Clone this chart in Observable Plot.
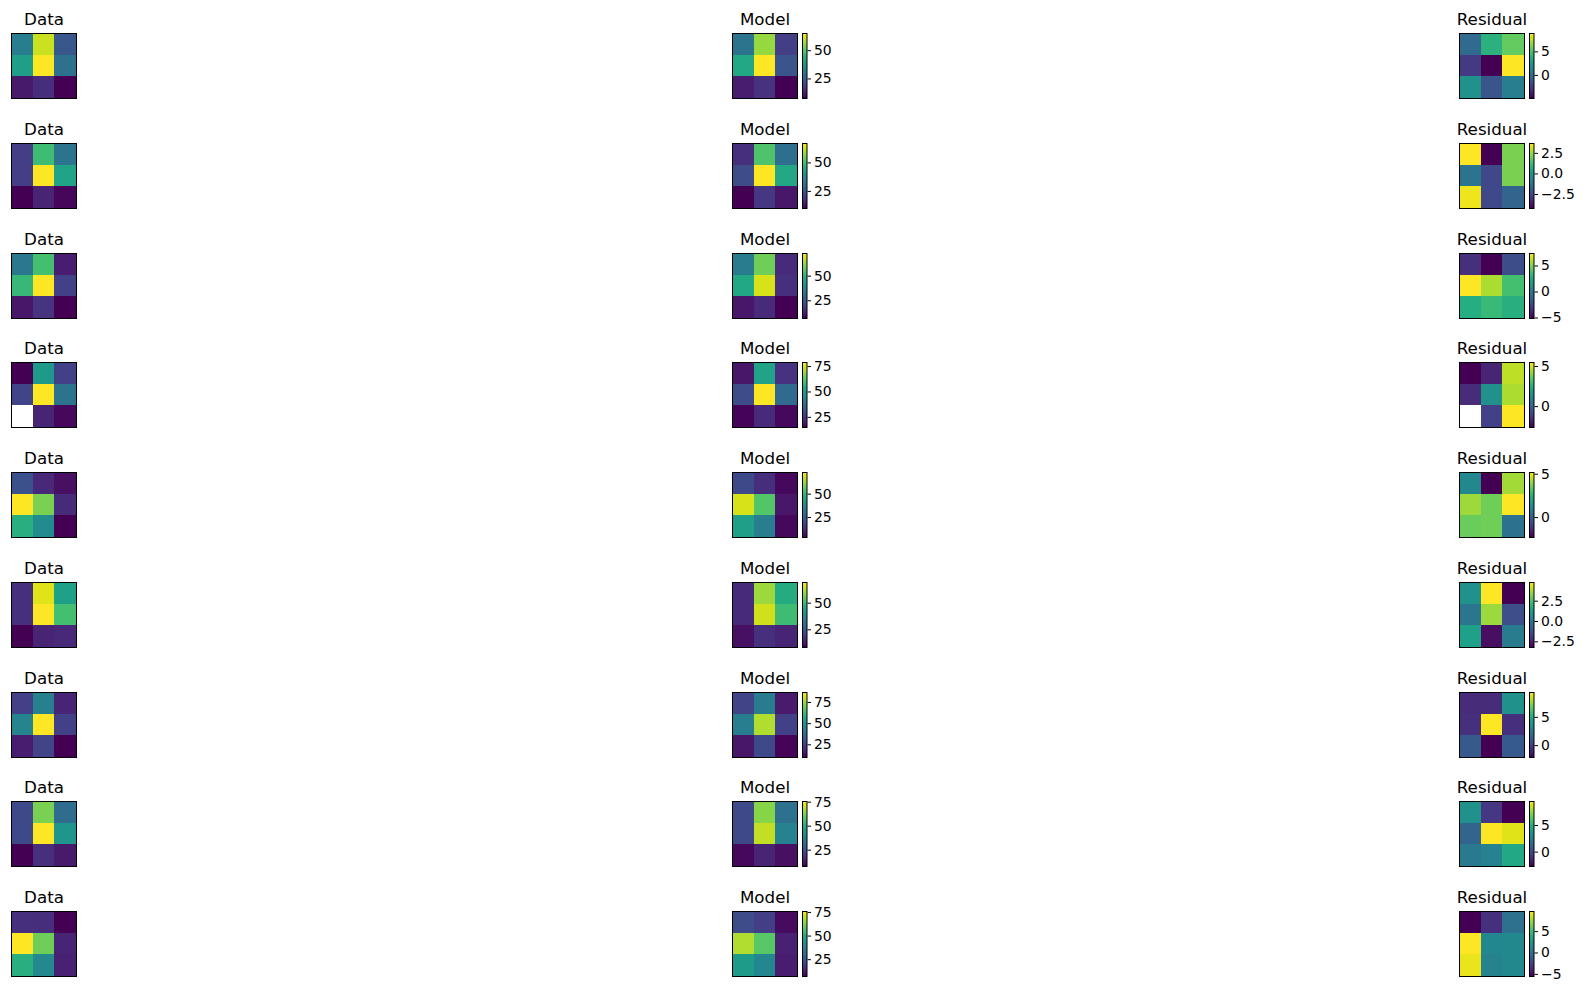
<!DOCTYPE html>
<html>
<head>
<meta charset="utf-8">
<script src="https://cdn.jsdelivr.net/npm/d3@7"></script>
<script src="https://cdn.jsdelivr.net/npm/@observablehq/plot@0.6"></script>
<style>
  body { margin: 0; background: #fff; }
  #fig { position: relative; width: 1583px; height: 990px; background: #fff; }
  #fig svg { position: absolute; overflow: visible; }
</style>
</head>
<body>
<div id="fig"></div>
<script>
const titles = ["Data", "Model", "Residual"];

// 3x3 images, row-major (top row first), one entry per figure row
const dataVals = [
  [31.9, 60.6, 23.2, 39.9, 65.2, 29.0, 11.7, 15.2, 7.7],
  [20.3, 49.3, 31.7, 20.3, 67.0, 43.1, 10.0, 15.7, 11.1],
  [33.4, 53.2, 12.3, 51.2, 73.0, 19.5, 11.0, 16.9, 7.0],
  [15.0, 49.6, 27.2, 27.8, 79.0, 39.3, NaN, 21.4, 16.3],
  [21.0, 11.3, 6.4, 73.2, 59.3, 12.0, 47.4, 37.0, 3.6],
  [16.9, 66.4, 43.2, 16.9, 69.4, 51.1, 8.4, 14.5, 15.1],
  [24.6, 43.0, 17.7, 44.6, 86.8, 24.6, 16.1, 25.4, 10.0],
  [22.9, 62.2, 31.7, 22.9, 75.7, 43.2, 8.0, 17.5, 12.7],
  [16.8, 16.1, 7.2, 76.0, 60.9, 14.1, 50.5, 39.5, 13.4]
];
const modelVals = [
  [29.6, 56.0, 18.1, 42.2, 65.2, 22.7, 12.3, 15.8, 7.7],
  [18.0, 51.0, 30.5, 23.1, 67.0, 44.2, 10.0, 19.1, 13.4],
  [34.1, 58.5, 14.9, 46.6, 69.0, 16.2, 11.0, 14.9, 7.0],
  [18.8, 52.1, 24.0, 29.7, 79.0, 36.8, 15.6, 22.7, 16.3],
  [18.9, 12.6, 5.0, 69.0, 54.4, 7.8, 42.6, 32.8, 5.0],
  [15.7, 60.3, 45.6, 15.7, 65.1, 50.5, 10.8, 16.9, 14.5],
  [25.4, 41.5, 15.4, 42.3, 77.6, 24.6, 14.6, 26.9, 10.8],
  [22.9, 63.5, 33.0, 22.9, 69.6, 37.8, 9.4, 14.8, 10.7],
  [23.0, 19.6, 9.3, 67.7, 58.1, 13.4, 45.0, 38.8, 12.7]
];
const residVals = [
  [-0.2, 3.9, 5.6, -2.6, -4.9, 8.9, 2.0, -1.3, 0.9],
  [3.7, -4.2, 2.1, -1.2, -2.5, 2.1, 3.5, -2.5, -1.7],
  [-3.35, -5.1, -2.2, 7.4, 5.8, 3.65, 2.65, 3.3, 2.8],
  [-2.6, -1.8, 4.7, -1.6, 1.45, 4.5, NaN, -1.05, 5.5],
  [1.2, -2.3, 4.15, 4.1, 3.55, 5.2, 3.5, 3.55, 0.5],
  [0.8, 4.8, -3.2, -0.1, 3.6, -1.3, 1.3, -2.9, 0.1],
  [-0.7, -0.7, 3.65, -0.5, 9.4, -0.5, 1.1, -2.1, 1.1],
  [3.4, -0.75, -2.7, 1.2, 9.5, 8.9, 2.3, 2.7, 4.6],
  [-5.5, -3.4, 0.1, 9.7, 1.5, 1.6, 9.2, 1.2, 1.6]
];

// colorbar ticks and their labels
const modelTicks = [
  [25, 50], [25, 50], [25, 50], [25, 50, 75], [25, 50],
  [25, 50], [25, 50, 75], [25, 50, 75], [25, 50, 75]
];
const residTicks = [
  [0, 5], [-2.5, 0, 2.5], [-5, 0, 5], [0, 5], [0, 5],
  [-2.5, 0, 2.5], [0, 5], [0, 5], [-5, 0, 5]
];
const residTickLabels = [
  ["0", "5"], ["−2.5", "0.0", "2.5"], ["−5", "0", "5"], ["0", "5"], ["0", "5"],
  ["−2.5", "0.0", "2.5"], ["0", "5"], ["0", "5"], ["−5", "0", "5"]
];

const top0 = 32, rowStep = 109.75, box = 65, barW = 4.5, barGap = 5;
const lefts = [10, 731, 1458];
const font = "DejaVu Sans";
const fig = document.querySelector("#fig");

// half-pixel offset keeps the 1px frames crisp
function place(el, left, top) {
  el.style.left = (Math.round(left) + 0.5) + "px";
  el.style.top = (Math.round(top) + 0.5) + "px";
  fig.append(el);
}

function heat(vals, domain, title) {
  const cells = vals
    .map((v, i) => ({r: Math.floor(i / 3), c: i % 3, v}))
    .filter(d => !isNaN(d.v));
  return Plot.plot({
    width: box, height: box + 30,
    marginTop: 30, marginLeft: 0, marginRight: 0, marginBottom: 0,
    style: {fontFamily: font, color: "black", background: "transparent", overflow: "visible"},
    x: {type: "band", domain: [0, 1, 2], padding: 0, round: false, axis: null},
    y: {type: "band", domain: [0, 1, 2], padding: 0, round: false, axis: null},
    color: {type: "linear", scheme: "viridis", domain, clamp: true},
    marks: [
      Plot.cell(cells, {x: "c", y: "r", fill: "v", inset: 0, shapeRendering: "crispEdges"}),
      Plot.frame({stroke: "black", strokeWidth: 1}),
      Plot.text([title], {text: d => d, frameAnchor: "top", dy: -8.3, lineAnchor: "bottom", fontSize: 16.7, fill: "black"})
    ]
  });
}

function colorbar(domain, ticks, labels) {
  const [lo, hi] = domain;
  const n = 128;
  const stops = d3.range(n).map(i => ({y1: lo + (hi - lo) * i / n, y2: lo + (hi - lo) * (i + 1) / n}));
  return Plot.plot({
    width: barW + 50, height: box,
    marginTop: 0, marginBottom: 0, marginLeft: 0, marginRight: 50,
    style: {fontFamily: font, fontSize: "13.9px", color: "black", background: "transparent", overflow: "visible"},
    x: {domain: [0, 1], axis: null},
    y: {domain, axis: "right", ticks, tickSize: 3.5, tickPadding: 3.5, label: null,
        tickFormat: d => labels ? labels[ticks.indexOf(d)] : String(d)},
    color: {type: "linear", scheme: "viridis", domain},
    marks: [
      Plot.rect(stops, {x1: 0, x2: 1, y1: "y1", y2: "y2", fill: d => (d.y1 + d.y2) / 2, shapeRendering: "crispEdges"}),
      Plot.frame({stroke: "black", strokeWidth: 1})
    ]
  });
}

dataVals.forEach((dv, i) => {
  const top = top0 + i * rowStep;
  const dDomain = d3.extent(dv.filter(v => !isNaN(v)));
  const rDomain = d3.extent(residVals[i].filter(v => !isNaN(v)));

  place(heat(dv, dDomain, titles[0]), lefts[0], top - 30);

  place(heat(modelVals[i], dDomain, titles[1]), lefts[1], top - 30);
  place(colorbar(dDomain, modelTicks[i], null), lefts[1] + box + barGap, top);

  place(heat(residVals[i], rDomain, titles[2]), lefts[2], top - 30);
  place(colorbar(rDomain, residTicks[i], residTickLabels[i]), lefts[2] + box + barGap, top);
});
</script>
</body>
</html>
